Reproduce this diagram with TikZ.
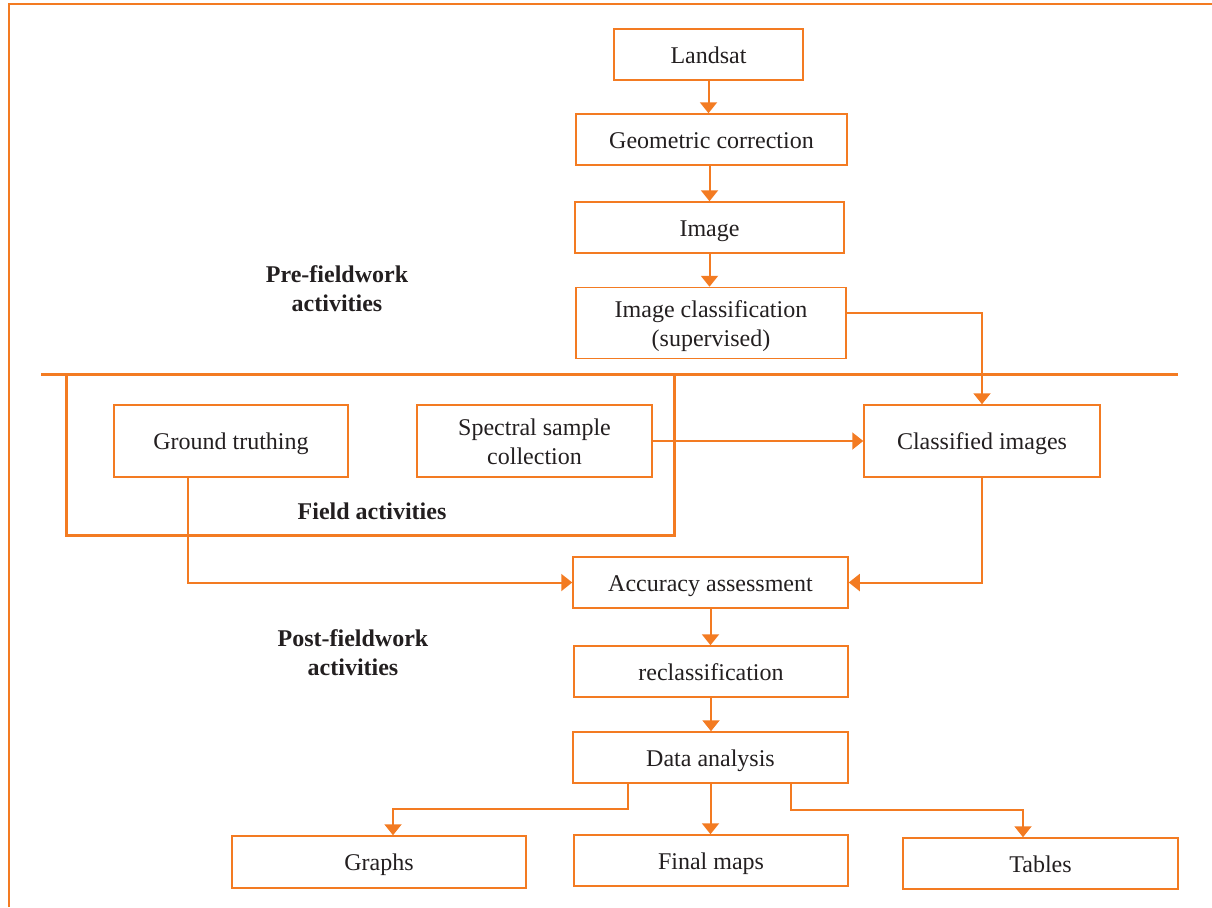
\documentclass[tikz,border=0pt]{standalone}
\usepackage{fontspec}
\setmainfont{Liberation Serif}
\usetikzlibrary{arrows.meta}
\definecolor{org}{HTML}{F37B22}
\definecolor{txt}{HTML}{231F20}
\begin{document}
\begin{tikzpicture}[x=0.5pt,y=-0.5pt,
 box/.style={draw=org, line width=0.75pt, align=center, text=txt, font=\fontsize{12}{14.5}\selectfont, inner sep=0pt, text height=11.2pt, text depth=2.5pt},
 box2/.style={box, text height=25.7pt},
 conn/.style={draw=org, line width=1pt},
 arr/.style={conn, -{Triangle[width=8.5pt,length=5.5pt]}},
 thick frame/.style={draw=org, line width=1.5pt},
 lbl/.style={text=txt, font=\fontsize{12}{14.5}\selectfont\bfseries, align=center}]
\useasboundingbox (0,0) rectangle (1212,907);
% page frame
\draw[org, line width=0.8pt] (9,907) -- (9,4) -- (1212,4);
% divider and field box
\draw[thick frame] (41,374) -- (1178,374);
\draw[thick frame] (66,374) rectangle (674,535);
% nodes
\node[box, minimum width=94.5pt, minimum height=25.5pt] (land) at (708.5,54.5) {Landsat};
\node[box, minimum width=135.5pt, minimum height=25.5pt] (geo) at (711.5,139.5) {Geometric correction};
\node[box, minimum width=134.5pt, minimum height=25.5pt] (img) at (709.5,227.5) {Image};
\node[box2, minimum width=135pt, minimum height=35.5pt] (ic) at (711,323) {Image classification\\(supervised)};
\node[box, minimum width=117pt, minimum height=36pt] (gt) at (231,441) {Ground truthing};
\node[box2, minimum width=117.5pt, minimum height=36pt] (sp) at (534.5,441) {Spectral sample\\collection};
\node[box, minimum width=118pt, minimum height=36pt] (cl) at (982,441) {Classified images};
\node[box, minimum width=137.5pt, minimum height=25.5pt] (acc) at (710.5,582.5) {Accuracy assessment};
\node[box, minimum width=137pt, minimum height=25.5pt] (rc) at (711,671.5) {reclassification};
\node[box, minimum width=137.5pt, minimum height=25.5pt] (da) at (710.5,757.5) {Data analysis};
\node[box, minimum width=147pt, minimum height=26pt] (gr) at (379,862) {Graphs};
\node[box, minimum width=137pt, minimum height=25.5pt] (fm) at (711,860.5) {Final maps};
\node[box, minimum width=137.5pt, minimum height=25.5pt] (tb) at (1040.5,863.5) {Tables};
% labels
\node[lbl] (pre) at (337,289) {Pre-fieldwork\\activities};
\node[lbl] (post) at (353,653) {Post-fieldwork\\activities};
\node[lbl] (field) at (372,511) {Field activities};
% connectors
\draw[arr] (land.south) -- (land.south |- geo.north);
\draw[arr] (img.north |- geo.south) -- (img.north);
\draw[arr] (img.south) -- (img.south |- ic.north);
\draw[arr] ([yshift=5pt]ic.east) -| (cl.north);
\draw[arr] (sp.east) -- (cl.west);
\draw[arr] ([xshift=-21.5pt]gt.south) |- (acc.west);
\draw[arr] (cl.south) |- (acc.east);
\draw[arr] (acc.south) -- (acc.south |- rc.north);
\draw[arr] (rc.south) -- (rc.south |- da.north);
\draw[arr] ([xshift=-41.25pt]da.south) -- ++(0,25) -| ([xshift=7pt]gr.north);
\draw[arr] (da.south) -- (da.south |- fm.north);
\draw[arr] ([xshift=40.25pt]da.south) -- ++(0,26) -| ([xshift=-8.75pt]tb.north);
\end{tikzpicture}
\end{document}
